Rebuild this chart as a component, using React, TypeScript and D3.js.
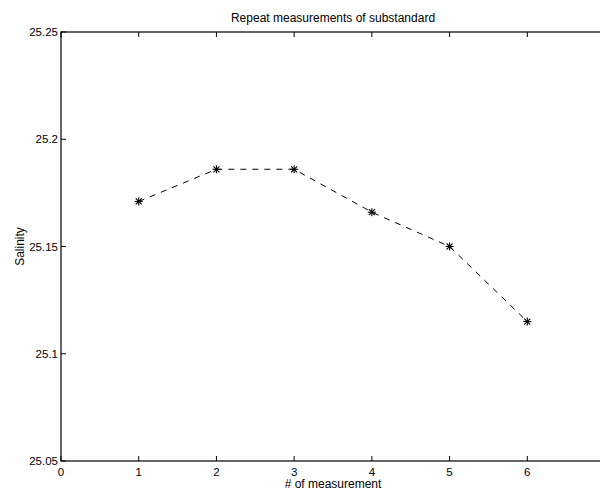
import React from "react";
import * as d3 from "d3";

const measurements = [1, 2, 3, 4, 5, 6];
const salinity = [25.171, 25.186, 25.186, 25.166, 25.15, 25.115];
const xTicks = [0, 1, 2, 3, 4, 5, 6, 7];
const xTickLabels = ["0", "1", "2", "3", "4", "5", "6", ""];
const yTicks = [25.05, 25.1, 25.15, 25.2, 25.25];

const W = 600, H = 490;
const M = { left: 61, top: 32, right: 605, bottom: 461 };

export default function App() {
  const x = d3.scaleLinear().domain([0, 7]).range([M.left, M.right]);
  const y = d3.scaleLinear().domain([25.05, 25.25]).range([M.bottom, M.top]);
  const pts = measurements.map((m, i) => [x(m), y(salinity[i])] as [number, number]);
  const line = d3.line()(pts) || "";
  const font = "'Liberation Sans', Arial, Helvetica, sans-serif";
  const tl = 5;
  return (
    <svg width={W} height={H} style={{ position: "fixed", left: 0, top: 0, background: "#fff" }} fontFamily={font}>
      <rect x={0} y={0} width={W} height={H} fill="#fff" />
      <path d={line} fill="none" stroke="#000" strokeWidth={1} strokeDasharray="6,6" />
      {pts.map(([px, py], i) => (
        <g key={i} stroke="#000" strokeWidth={1.1}>
          <line x1={px - 4} x2={px + 4} y1={py} y2={py} />
          <line x1={px} x2={px} y1={py - 4} y2={py + 4} />
          <line x1={px - 3} x2={px + 3} y1={py - 3} y2={py + 3} />
          <line x1={px - 3} x2={px + 3} y1={py + 3} y2={py - 3} />
        </g>
      ))}
      <rect x={M.left} y={M.top} width={M.right - M.left} height={M.bottom - M.top} fill="none" stroke="#000" strokeWidth={1.2} />
      {xTicks.map((t, i) => (
        <g key={"x" + t}>
          <line x1={x(t)} x2={x(t)} y1={M.bottom} y2={M.bottom - tl} stroke="#000" />
          <line x1={x(t)} x2={x(t)} y1={M.top} y2={M.top + tl} stroke="#000" />
          {xTickLabels[i] && (
            <text x={x(t)} y={M.bottom + 15} textAnchor="middle" fontSize={11.5}>{xTickLabels[i]}</text>
          )}
        </g>
      ))}
      {yTicks.map((t) => (
        <g key={"y" + t}>
          <line x1={M.left} x2={M.left + tl} y1={y(t)} y2={y(t)} stroke="#000" />
          <line x1={M.right} x2={M.right - tl} y1={y(t)} y2={y(t)} stroke="#000" />
          <text x={M.left - 3} y={y(t) + 4} textAnchor="end" fontSize={11.5}>{String(t)}</text>
        </g>
      ))}
      <text x={(M.left + M.right) / 2} y={22} textAnchor="middle" fontSize={12}>Repeat measurements of substandard</text>
      <text x={(M.left + M.right) / 2} y={488} textAnchor="middle" fontSize={12}># of measurement</text>
      <text transform={`translate(24,${(M.top + M.bottom) / 2}) rotate(-90)`} textAnchor="middle" fontSize={12}>Salinity</text>
    </svg>
  );
}
